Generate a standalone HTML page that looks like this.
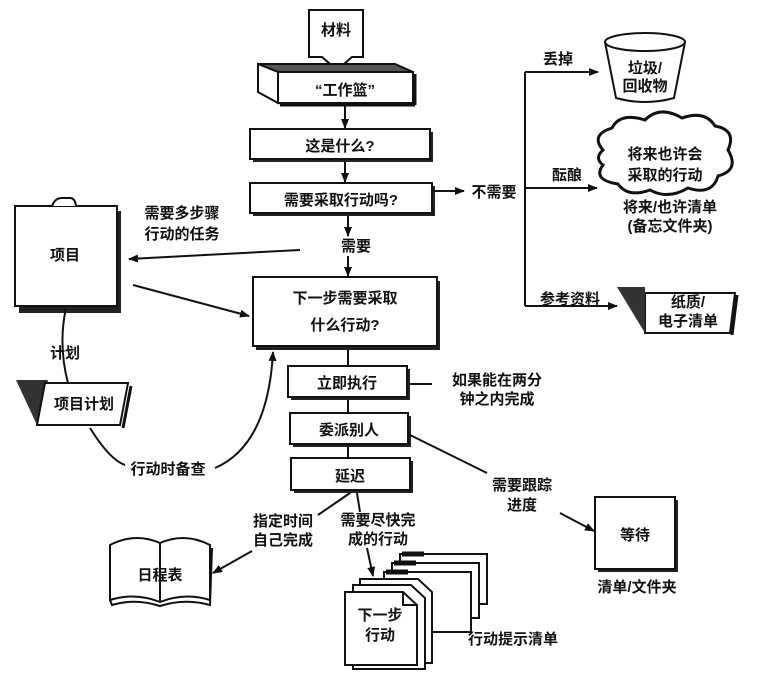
<!DOCTYPE html>
<html><head><meta charset="utf-8"><style>
html,body{margin:0;padding:0;background:#fff;}
svg{display:block;}
text{font-family:"Liberation Sans","Noto Sans CJK SC",sans-serif;font-weight:bold;fill:#111;}
</style></head><body>
<svg width="778" height="680" viewBox="0 0 778 680" xmlns="http://www.w3.org/2000/svg">
<defs>
<marker id="a" markerWidth="10" markerHeight="8" refX="9" refY="4" orient="auto" markerUnits="userSpaceOnUse"><path d="M0,0 L10,4 L0,8 z" fill="#111"/></marker>
</defs>
<g stroke="#111" stroke-width="2" fill="none">
<path d="M309,10 H363 V57 H352 L337,70 L322,57 H309 Z" fill="#fff"/>
<path d="M258,64 L278,72 H413 L395,64 Z" fill="#555"/>
<path d="M258,64 L258,92 L278,103 V72 Z" fill="#fff"/>
<rect x="278" y="72" width="135" height="31" fill="#fff"/>
<line x1="280" y1="105" x2="415" y2="105" stroke-width="3"/>
<line x1="415" y1="74" x2="415" y2="105" stroke-width="3"/>
<rect x="253" y="132" width="180" height="30" fill="#222" stroke="none"/>
<rect x="250" y="129" width="180" height="30" fill="#fff"/>
<rect x="253" y="186" width="182" height="30" fill="#222" stroke="none"/>
<rect x="250" y="183" width="182" height="30" fill="#fff"/>
<rect x="256" y="281" width="184" height="69" fill="#222" stroke="none"/>
<rect x="253" y="277" width="184" height="69" fill="#fff"/>
<rect x="291" y="369" width="119" height="31" fill="#222" stroke="none"/>
<rect x="288" y="366" width="119" height="31" fill="#fff"/>
<rect x="293" y="416" width="118" height="31" fill="#222" stroke="none"/>
<rect x="290" y="413" width="118" height="31" fill="#fff"/>
<rect x="294" y="461" width="119" height="32" fill="#222" stroke="none"/>
<rect x="291" y="458" width="119" height="32" fill="#fff"/>
<line x1="345" y1="105" x2="345" y2="128" marker-end="url(#a)"/>
<line x1="345" y1="162" x2="345" y2="182" marker-end="url(#a)"/>
<line x1="348" y1="216" x2="348" y2="236" marker-end="url(#a)"/>
<line x1="348" y1="256" x2="348" y2="276" marker-end="url(#a)"/>
<line x1="348" y1="350" x2="348" y2="366"/>
<line x1="348" y1="400" x2="348" y2="413"/>
<line x1="348" y1="447" x2="348" y2="458"/>
<line x1="410" y1="384" x2="432" y2="384"/>
<line x1="433" y1="191" x2="464" y2="191" marker-end="url(#a)"/>
<path d="M525,72 V306"/>
<line x1="525" y1="72" x2="598" y2="72" marker-end="url(#a)"/>
<line x1="525" y1="188" x2="597" y2="188" marker-end="url(#a)"/>
<line x1="525" y1="306" x2="617" y2="306" marker-end="url(#a)"/>
<ellipse cx="645" cy="42" rx="40" ry="9" fill="#fff"/>
<path d="M605,42 L616,98 Q645,106 674,98 L685,42"/>
<path d="M603,150 Q590,135 612,128 Q620,112 645,120 Q660,105 682,118 Q705,110 715,126 Q737,130 728,150 Q740,170 718,176 Q712,196 688,188 Q668,200 650,190 Q628,198 618,184 Q592,180 603,165 Q594,158 603,150 Z" fill="#fff" stroke-width="3"/>
<path d="M645,293 H735 L730,333 H645 Z" fill="#fff"/>
<path d="M617,287 L645,287 L645,333 Z" fill="#333" stroke="none"/>
<line x1="737" y1="295" x2="732" y2="335" stroke-width="3"/>
<rect x="19" y="211" width="102" height="102" fill="#222" stroke="none"/>
<rect x="15" y="206" width="102" height="100" fill="#fff"/>
<path d="M52,206 Q55,198 62,198 H70 Q75,198 76,206" fill="#fff"/>
<line x1="300" y1="250" x2="129" y2="259" marker-end="url(#a)"/>
<line x1="133" y1="285" x2="249" y2="316" marker-end="url(#a)"/>
<path d="M66,308 Q58,345 68,383"/>
<path d="M16,380 H48 L37,425 Z" fill="#333" stroke="none"/>
<path d="M45,383 H128 L120,425 H37 Z" fill="#fff"/>
<line x1="131" y1="386" x2="123" y2="428" stroke-width="3"/>
<path d="M90,428 Q110,460 125,465"/>
<path d="M215,468 Q268,445 273,352" marker-end="url(#a)"/>
<line x1="410" y1="435" x2="487" y2="473"/>
<line x1="560" y1="513" x2="594" y2="531" marker-end="url(#a)"/>
<rect x="598" y="500" width="80" height="72" fill="#222" stroke="none"/>
<rect x="595" y="497" width="80" height="72" fill="#fff"/>
<line x1="350" y1="493" x2="318" y2="515"/>
<line x1="252" y1="551" x2="213" y2="573" marker-end="url(#a)"/>
<line x1="357" y1="493" x2="360" y2="512"/>
<line x1="367" y1="548" x2="373" y2="576" marker-end="url(#a)"/>
<path d="M110,545 Q135,532 160,543 Q185,532 210,545 V600 Q185,592 160,602 Q135,592 110,600 Z" fill="#fff"/>
<path d="M110,600 L112,605 Q135,598 160,606 Q185,598 210,605 L212,548" stroke-width="2"/>
<line x1="160" y1="543" x2="160" y2="602"/>
<rect x="400" y="554" width="87" height="50" fill="#fff"/>
<rect x="392" y="563" width="87" height="55" fill="#fff"/>
<rect x="384" y="572" width="87" height="60" fill="#fff"/>
<path d="M402,554 h22" stroke-width="5"/>
<path d="M394,563 h22" stroke-width="5"/>
<path d="M386,572 h22" stroke-width="5"/>
<path d="M360,579 H418 L432,592 V663 H360 Z" fill="#fff"/>
<path d="M353,585 H411 L425,598 V669 H353 Z" fill="#fff"/>
<path d="M345,592 H403 L417,605 V665 H345 Z" fill="#fff"/>
<path d="M403,592 V605 H417"/>
</g>
<g font-size="15" text-anchor="middle">
<text x="336" y="35">材料</text>
<text x="345" y="95">“工作篮”</text>
<text x="340" y="151">这是什么?</text>
<text x="341" y="205">需要采取行动吗?</text>
<text x="494" y="197">不需要</text>
<text x="356" y="251">需要</text>
<text x="345" y="303">下一步需要采取</text>
<text x="345" y="330">什么行动?</text>
<text x="347" y="388">立即执行</text>
<text x="349" y="435">委派别人</text>
<text x="350" y="481">延迟</text>
<text x="497" y="385">如果能在两分</text>
<text x="497" y="404">钟之内完成</text>
<text x="558" y="64">丢掉</text>
<text x="645" y="73">垃圾/</text>
<text x="645" y="91">回收物</text>
<text x="665" y="159">将来也许会</text>
<text x="665" y="180">采取的行动</text>
<text x="567" y="180">酝酿</text>
<text x="670" y="212">将来/也许清单</text>
<text x="670" y="231">(备忘文件夹)</text>
<text x="570" y="304">参考资料</text>
<text x="688" y="307">纸质/</text>
<text x="688" y="326">电子清单</text>
<text x="65" y="260">项目</text>
<text x="182" y="218">需要多步骤</text>
<text x="182" y="239">行动的任务</text>
<text x="65" y="358">计划</text>
<text x="84" y="409">项目计划</text>
<text x="168" y="474">行动时备查</text>
<text x="522" y="490">需要跟踪</text>
<text x="522" y="510">进度</text>
<text x="635" y="540">等待</text>
<text x="637" y="592">清单/文件夹</text>
<text x="283" y="526">指定时间</text>
<text x="283" y="545">自己完成</text>
<text x="378" y="525">需要尽快完</text>
<text x="378" y="544">成的行动</text>
<text x="160" y="580">日程表</text>
<text x="380" y="620">下一步</text>
<text x="380" y="640">行动</text>
<text x="513" y="644">行动提示清单</text>
</g>
</svg>
</body></html>
